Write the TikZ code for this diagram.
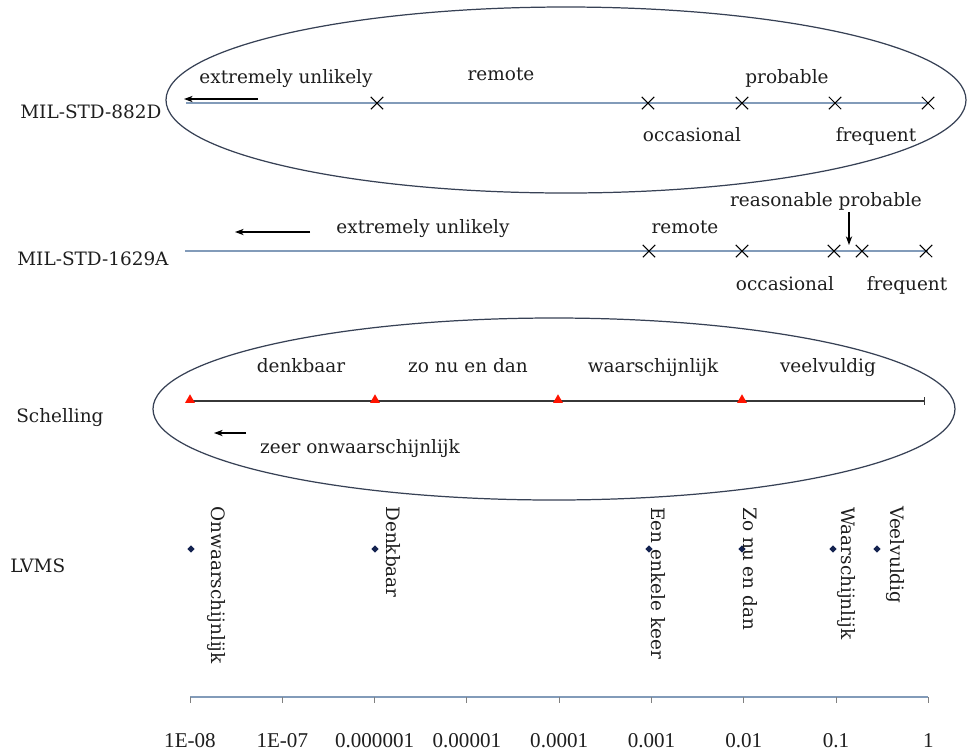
\documentclass[tikz,border=0pt]{standalone}
\usepackage{fontspec}
\setmainfont{DejaVu Serif}
\newfontfamily\axisfont{Liberation Serif}
\usepackage{xcolor}
\usepackage{tikz}
\usetikzlibrary{positioning,arrows.meta,shapes.geometric,shapes.misc}

\definecolor{scaleline}{RGB}{130,155,185}
\definecolor{rimcolor}{RGB}{55,65,85}
\definecolor{textgrey}{RGB}{30,30,30}
\definecolor{dotblue}{RGB}{20,35,80}
\definecolor{schelline}{RGB}{55,55,55}

\tikzset{
  lbl/.style={font=\fontsize{10.5}{12}\selectfont, text=textgrey, inner sep=0pt, anchor=base},
  stdlbl/.style={lbl, anchor=base west},
  vlbl/.style={font=\fontsize{10.5}{12}\selectfont, text=textgrey, inner sep=0pt, rotate=-90, anchor=west},
  axlbl/.style={font=\fontsize{12}{14}\selectfont\axisfont, text=textgrey, inner sep=0pt, anchor=base},
  xmark/.style={cross out, draw=black, line width=0.6pt, minimum size=6.5pt, inner sep=0pt},
  redtri/.style={regular polygon, regular polygon sides=3, fill=red!85!orange, minimum size=6.5pt, inner sep=0pt},
  lvmsdot/.style={diamond, fill=dotblue, minimum size=4.4pt, inner sep=0pt},
  ptr/.style={-{Stealth[length=5pt,width=3.6pt]}, line width=0.6pt, black},
  rim/.style={draw=rimcolor, line width=0.7pt},
}

\begin{document}
\begin{tikzpicture}[x=0.02cm, y=-0.02cm]
\useasboundingbox (0,0) rectangle (968,752);

% MIL-STD-882D
\draw[rim] (566,100) ellipse [x radius=400, y radius=93];
\node[stdlbl] (mil882) at (20,118) {MIL-STD-882D};
\coordinate (aL) at (186,103);
\coordinate (aR) at (928,103);
\draw[scaleline, line width=0.6pt] (aL) -- (aR);
\foreach \x [count=\i] in {377,648,742,835,928}
  \node[xmark] (ax\i) at (\x,103) {};
\coordinate (aPtrS) at (258,99);
\coordinate (aPtrE) at (184,99);
\draw[ptr] (aPtrS) -- (aPtrE);
\node[lbl] (aUnlikely) at (286,83) {extremely unlikely};
\node[lbl] (aRemote) at (501,80) {remote};
\node[lbl] (aProbable) at (787,83) {probable};
\node[lbl] (aOccasional) at (692,141) {occasional};
\node[lbl] (aFrequent) at (876,141) {frequent};

% MIL-STD-1629A
\node[stdlbl] (mil1629) at (17,265) {MIL-STD-1629A};
\coordinate (bL) at (185,251);
\coordinate (bR) at (928,251);
\draw[scaleline, line width=0.6pt] (bL) -- (bR);
\foreach \x [count=\i] in {649,742,834,862,926}
  \node[xmark] (bx\i) at (\x,251) {};
\coordinate (bPtrS) at (310,232);
\coordinate (bPtrE) at (235,232);
\draw[ptr] (bPtrS) -- (bPtrE);
\node[lbl] (bUnlikely) at (423,233) {extremely unlikely};
\node[lbl] (bRemote) at (685,233) {remote};
\node[lbl] (bReasonable) at (826,206) {reasonable probable};
\coordinate (bRpS) at (849,212);
\coordinate (bRpE) at (849,245);
\draw[ptr] (bRpS) -- (bRpE);
\node[lbl] (bOccasional) at (785,290) {occasional};
\node[lbl] (bFrequent) at (907,290) {frequent};

% Schelling
\draw[rim] (554,409) ellipse [x radius=401, y radius=91];
\node[stdlbl] (schel) at (16,422) {Schelling};
\coordinate (cL) at (190,401);
\coordinate (cR) at (925,401);
\draw[schelline, line width=0.8pt, -{Bar[width=4.5pt]}] (cL) -- (cR);
\foreach \x [count=\i] in {190,375,558,742}
  \node[redtri] (ct\i) at (\x,400) {};
\node[lbl] (cDenkbaar) at (301,372) {denkbaar};
\node[lbl] (cZonu) at (468,372) {zo nu en dan};
\node[lbl] (cWaarsch) at (653,372) {waarschijnlijk};
\node[lbl] (cVeel) at (828,372) {veelvuldig};
\node[lbl] (cZeer) at (360,453) {zeer onwaarschijnlijk};
\coordinate (cPtrS) at (246,433);
\coordinate (cPtrE) at (214,433);
\draw[ptr] (cPtrS) -- (cPtrE);

% LVMS
\node[stdlbl] (lvms) at (10,572) {LVMS};
\foreach \x [count=\i] in {191,375,649,742,833,877}
  \node[lvmsdot] (dd\i) at (\x,549) {};
\node[vlbl] (dOnw) at (216,506) {Onwaarschijnlijk};
\node[vlbl] (dDenk) at (393,506) {Denkbaar};
\node[vlbl] (dEen) at (658,507) {Een enkele keer};
\node[vlbl] (dZo) at (750,507) {Zo nu en dan};
\node[vlbl] (dWaar) at (846,507) {Waarschijnlijk};
\node[vlbl] (dVeel) at (895,506) {Veelvuldig};

% Probability axis
\foreach \i in {0,...,8}
  \coordinate (t\i) at ({190+92.3*\i},697);
\draw[scaleline, line width=0.6pt] (t0) -- (t8);
\foreach \i in {0,...,8}
  \draw[gray, line width=0.5pt] (t\i) -- ++(0,6);
\foreach \v [count=\i from 0] in {1E-08,1E-07,0.000001,0.00001,0.0001,0.001,0.01,0.1,1}
  \node[axlbl] (v\i) at ({190+92.3*\i},747) {\v};

\end{tikzpicture}
\end{document}
